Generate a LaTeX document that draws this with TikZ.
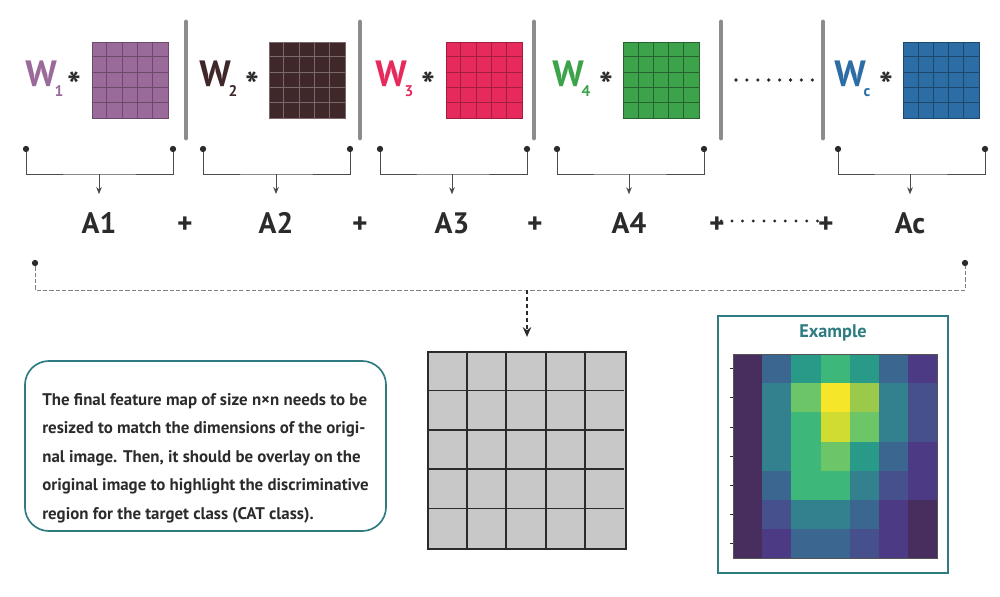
\documentclass[tikz,border=0pt]{standalone}
\usepackage{fontspec}
\setmainfont{PT Sans}
\usetikzlibrary{positioning, arrows.meta, calc}
\usepackage{xcolor}

\definecolor{ink}{HTML}{2B2B2B}
\definecolor{sepgray}{HTML}{8C8C8C}
\definecolor{boxteal}{HTML}{2E7C82}
\definecolor{cellgray}{HTML}{C8C8C8}
\definecolor{wpurple}{HTML}{9A6A9A}
\definecolor{wbrown}{HTML}{40282A}
\definecolor{wpink}{HTML}{E62A5C}
\definecolor{wgreen}{HTML}{3DA34B}
\definecolor{wblue}{HTML}{2C6DA5}
% heat map palette
\definecolor{vir0}{HTML}{472E5E}
\definecolor{vir1}{HTML}{4D3A84}
\definecolor{vir2}{HTML}{45508C}
\definecolor{vir3}{HTML}{3B6690}
\definecolor{vir4}{HTML}{33808E}
\definecolor{vir5}{HTML}{2A9A88}
\definecolor{vir6}{HTML}{3DB87A}
\definecolor{vir7}{HTML}{6CC567}
\definecolor{vir8}{HTML}{9AC94C}
\definecolor{vir9}{HTML}{D0DC32}
\definecolor{vir10}{HTML}{F5E62A}

\tikzset{
  kernel/.style={minimum size=1.9cm, inner sep=0pt, line width=0.6pt},
  wlabel/.style={anchor=base west, inner sep=0pt, font=\bfseries\fontsize{26}{26}\selectfont},
  mulsign/.style={anchor=base, inner sep=0pt, text=ink, font=\bfseries\fontsize{26}{26}\selectfont},
  alabel/.style={anchor=base, inner xsep=2pt, inner ysep=12.5pt, text=ink, font=\bfseries\fontsize{21}{21}\selectfont},
  plussign/.style={anchor=base, inner sep=1pt, text=ink, font=\bfseries\fontsize{21}{21}\selectfont},
  sepbar/.style={line width=3.5pt, draw=sepgray, line cap=round},
  dotnode/.style={circle, fill=ink, inner sep=0pt, minimum size=4.5pt},
  bracket/.style={draw=ink!85, line width=0.7pt},
  pointer/.style={bracket, -{Stealth[length=5pt, width=4pt]}},
  dashline/.style={draw=gray, line width=0.6pt, dash pattern=on 3pt off 1.5pt},
  dasharrow/.style={draw=ink, line width=1pt, dash pattern=on 3pt off 2pt, -{Stealth[length=7pt, width=6pt]}},
  dotline/.style={draw=ink, line width=2.3pt, line cap=round, dash pattern=on 0pt off 7.6pt},
  descbox/.style={draw=boxteal, line width=1.2pt, rounded corners=0.6cm, minimum width=9.025cm, minimum height=4.25cm, align=left, text=ink, font=\bfseries\fontsize{12}{20.3}\selectfont},
  exbox/.style={draw=boxteal, line width=1.2pt, minimum width=5.75cm, minimum height=6.425cm, inner sep=0pt},
}

\newcommand{\wsub}[1]{\kern-1.5pt\raisebox{-6.5pt}{\fontsize{11}{11}\selectfont #1}}

\begin{document}
\begin{tikzpicture}[x=0.025cm, y=-0.025cm]
  \useasboundingbox (0,0) rectangle (1000,597);

  % weighted kernels
  \foreach \x/\c/\l/\n in {130/wpurple/wpurple!70!black/1, 307/wbrown/wbrown!70!white/2, 484/wpink/wpink!70!black/3, 661.5/wgreen/wgreen!60!black/4, 941.5/wblue/wblue!65!black/5} {
    \node[kernel, fill=\c, draw=\l] (k\n) at (\x,80) {};
    \foreach \i in {1,...,4} {
      \draw[\l, line width=0.6pt] (k\n.north west) ++(\i*15.2,0) -- ++(0,76);
      \draw[\l, line width=0.6pt] (k\n.north west) ++(0,\i*15.2) -- ++(76,0);
    }
  }
  \node[wlabel, text=wpurple] (w1) at (25,87) {W\wsub{1}};
  \node[wlabel, text=wbrown] (w2) at (199,87) {W\wsub{2}};
  \node[wlabel, text=wpink] (w3) at (375,87) {W\wsub{3}};
  \node[wlabel, text=wgreen] (w4) at (552,87) {W\wsub{4}};
  \node[wlabel, text=wblue] (w5) at (834,87) {W\wsub{c}};
  \foreach \x [count=\n] in {74,252,428,606,886}
    \node[mulsign] (m\n) at (\x,99) {*};

  % separators
  \foreach \x in {186,360,534,721,823}
    \draw[sepbar] (\x,22) -- (\x,138);
  \foreach \i in {0,...,7}
    \fill[ink] ({736+\i*10.9},80) circle (1.8);

  % brackets to class activation maps
  \foreach \l/\r/\m/\t [count=\n] in {26/173/99/A1, 203/350/276/A2, 380/527/452/A3, 557/704/629/A4, 838/985/910/Ac} {
    \node[dotnode] (l\n) at (\l,149) {};
    \node[dotnode] (r\n) at (\r,149) {};
    \coordinate (c\n) at (\m,174);
    \node[alabel] (a\n) at (\m,233) {\t};
    \draw[bracket] (l\n) |- (c\n) -| (r\n);
    \draw[pointer] (c\n) -- (a\n);
  }
  \node[plussign] (p1) at (185,233) {+};
  \node[plussign] (p2) at (360,233) {+};
  \node[plussign] (p3) at (535,233) {+};
  \node[plussign] (p4) at (717,233) {+};
  \node[plussign] (p5) at (826,233) {+};
  \draw[dotline] ([xshift=3pt]p4.center |- 0,221) -- ([xshift=-3pt]p5.center |- 0,221);

  % sum into final map
  \node[dotnode] (b1) at (35,263) {};
  \node[dotnode] (b2) at (965,263) {};
  \coordinate (bm) at (527,290);
  \draw[dashline] (b1) |- (bm) -| (b2);

  \node[kernel, minimum size=4.925cm, fill=cellgray, draw=ink, line width=1.4pt] (fm) at (527,450.5) {};
  \foreach \i in {1,...,4} {
    \draw[ink, line width=1.2pt] (fm.north west) ++(\i*39.4,0) -- ++(0,197);
    \draw[ink, line width=1.2pt] (fm.north west) ++(0,\i*39.4) -- ++(197,0);
  }
  \draw[dasharrow, shorten >=10pt] (bm) -- (fm);

  \node[descbox] (desc) at (205.5,446) {\rule{0pt}{26pt}The final feature map of size n×n needs to be\\
    resized to match the dimensions of the origi-\\
    nal image. Then, it should be overlay on the\\
    original image to highlight the discriminative\\
    region for the target class (CAT class).};

  % example heat map
  \node[exbox] (ex) at (833,444.5) {};
  \node[text=boxteal, font=\bfseries\fontsize{13}{13}\selectfont] (extitle) at (833,333) {Example};
  \foreach \row [count=\r from 0] in {{0,3,5,6,5,3,1},{0,4,7,10,8,4,2},{0,4,6,9,7,4,2},{0,4,6,7,5,3,1},{0,3,6,6,4,2,1},{0,2,4,4,3,1,0},{0,1,3,3,2,1,0}} {
    \foreach \v [count=\c from 0] in \row
      \fill[vir\v] ({733+\c*29.2},{354+\r*29.2}) rectangle ++(29.4,29.4);
    \draw[ink, line width=0.5pt] (730,{368.6+\r*29.2}) -- (733,{368.6+\r*29.2});
  }
  \draw[ink!80, line width=0.4pt] (733,354) rectangle (937.4,558.4);
\end{tikzpicture}
\end{document}
